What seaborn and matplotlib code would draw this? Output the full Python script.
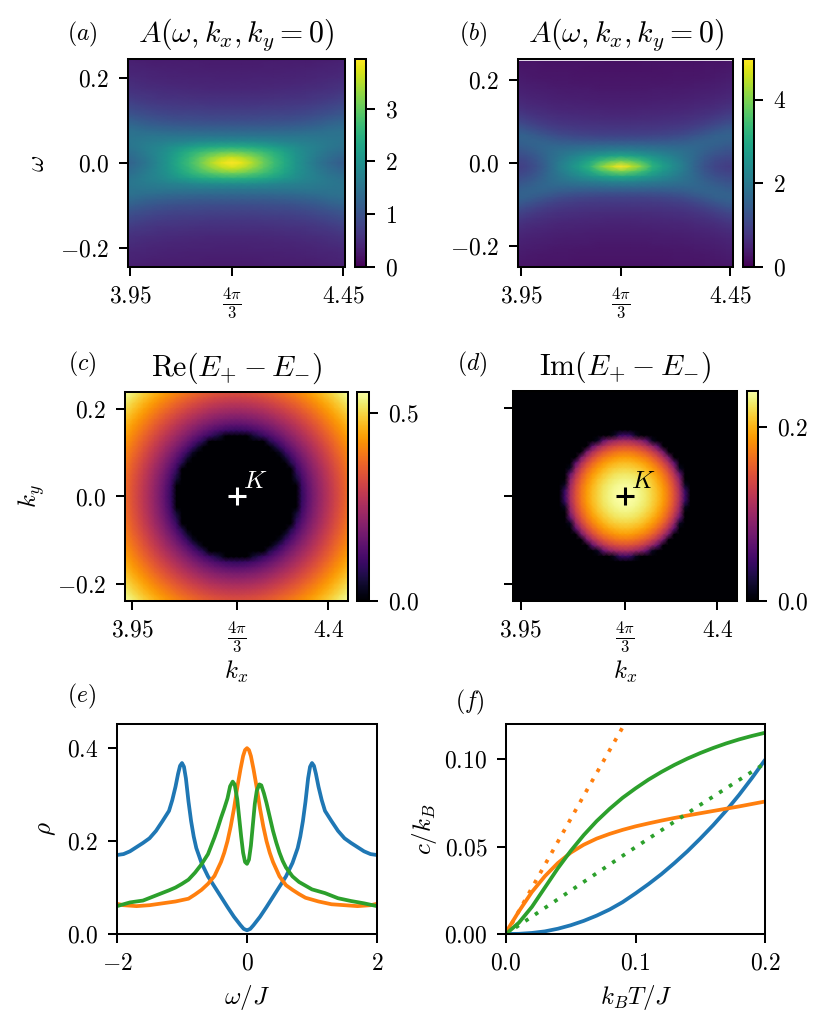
import numpy as np
import pandas as pd
import matplotlib
matplotlib.use('Agg')
import matplotlib.pyplot as plt
import seaborn as sns

K_POINT = 4 * np.pi / 3

# spectral function, quarter of the map: rows omega = 0, 0.0125, ... ; columns k - K = 0, 0.025, ...
spectral_a = [
    [3.94, 3.80, 3.45, 3.05, 2.70, 2.40, 2.05, 1.80, 1.55, 1.35, 1.20, 1.12],
    [3.65, 3.50, 3.25, 2.95, 2.62, 2.35, 2.05, 1.82, 1.60, 1.42, 1.28, 1.22],
    [3.05, 3.00, 2.85, 2.68, 2.48, 2.25, 2.00, 1.82, 1.65, 1.50, 1.40, 1.35],
    [2.45, 2.42, 2.38, 2.30, 2.18, 2.05, 1.92, 1.78, 1.68, 1.58, 1.50, 1.46],
    [1.90, 1.90, 1.88, 1.85, 1.80, 1.75, 1.70, 1.66, 1.62, 1.57, 1.53, 1.50],
    [1.55, 1.55, 1.55, 1.55, 1.55, 1.55, 1.55, 1.55, 1.53, 1.52, 1.50, 1.50],
    [1.30, 1.30, 1.30, 1.30, 1.31, 1.32, 1.33, 1.36, 1.40, 1.44, 1.45, 1.46],
    [1.08, 1.08, 1.08, 1.09, 1.10, 1.12, 1.14, 1.18, 1.23, 1.30, 1.35, 1.38],
    [.92, .92, .92, .93, .94, .95, .98, 1.02, 1.07, 1.14, 1.21, 1.25],
    [.80, .80, .80, .81, .82, .83, .85, .88, .93, 1.00, 1.06, 1.11],
    [.70, .70, .70, .71, .72, .73, .75, .78, .82, .87, .93, .98],
    [.61, .61, .61, .62, .63, .64, .66, .68, .72, .77, .82, .87],
    [.54, .54, .54, .55, .56, .57, .58, .60, .63, .67, .72, .76],
    [.48, .48, .48, .49, .50, .51, .52, .54, .57, .60, .64, .68],
    [.43, .43, .43, .44, .44, .45, .47, .48, .50, .53, .56, .60],
    [.39, .39, .40, .40, .41, .41, .42, .44, .46, .48, .51, .54],
    [.36, .36, .37, .37, .38, .38, .39, .40, .42, .44, .46, .49],
    [.34, .34, .34, .35, .35, .36, .36, .37, .39, .40, .42, .44],
    [.32, .32, .32, .33, .33, .33, .34, .35, .36, .37, .39, .41],
    [.30, .30, .30, .31, .31, .31, .32, .32, .33, .35, .36, .38],
    [.28, .28, .29, .29, .29, .30, .30, .31, .31, .32, .34, .35],
]
spectral_b = [
    [4.98, 4.55, 4.00, 3.20, 2.80, 2.40, 2.05, 1.60, 1.25, 1.02, .90, .86],
    [3.95, 3.75, 3.40, 2.95, 2.60, 2.30, 2.00, 1.65, 1.33, 1.10, 1.00, .96],
    [2.95, 2.85, 2.70, 2.50, 2.32, 2.12, 1.90, 1.68, 1.42, 1.24, 1.13, 1.10],
    [2.20, 2.18, 2.12, 2.05, 1.98, 1.90, 1.80, 1.68, 1.52, 1.37, 1.27, 1.24],
    [1.70, 1.70, 1.68, 1.66, 1.64, 1.63, 1.63, 1.63, 1.58, 1.50, 1.42, 1.40],
    [1.30, 1.30, 1.30, 1.30, 1.32, 1.35, 1.40, 1.48, 1.55, 1.57, 1.53, 1.50],
    [.98, .98, .99, 1.00, 1.03, 1.08, 1.14, 1.25, 1.38, 1.50, 1.55, 1.55],
    [.82, .82, .83, .84, .87, .90, .95, 1.04, 1.15, 1.30, 1.42, 1.47],
    [.71, .71, .72, .73, .75, .77, .81, .87, .96, 1.08, 1.21, 1.28],
    [.62, .62, .62, .63, .65, .67, .70, .74, .81, .90, 1.01, 1.08],
    [.54, .54, .55, .56, .57, .59, .61, .65, .70, .77, .86, .92],
    [.48, .48, .49, .50, .51, .52, .54, .57, .61, .66, .73, .79],
    [.43, .43, .44, .45, .45, .47, .48, .51, .54, .58, .64, .69],
    [.39, .39, .40, .40, .41, .42, .43, .45, .48, .52, .56, .60],
    [.36, .36, .36, .37, .37, .38, .39, .41, .43, .46, .50, .54],
    [.33, .33, .33, .34, .34, .35, .36, .37, .39, .42, .45, .48],
    [.30, .30, .31, .31, .31, .32, .33, .34, .36, .38, .41, .44],
    [.28, .28, .29, .29, .29, .30, .30, .31, .33, .35, .37, .40],
    [.26, .26, .27, .27, .27, .28, .28, .29, .30, .32, .34, .36],
    [.25, .25, .25, .25, .26, .26, .26, .27, .28, .29, .31, .33],
    [.23, .23, .24, .24, .24, .24, .25, .25, .26, .27, .29, .31],
    [.22, .22, .22, .23, .23, .23, .24, .24, .25, .26, .27, .29],
]

# gap maps, quarter of the map: rows k_y = 0, 0.0125, ... ; columns k_x - K = 0, 0.0125, ...
gap_re = [
    [0, 0, 0, 0, 0, 0, 0, 0, 0, 0, 0, 0, .093, .143, .181, .216, .247, .276, .304, .331, .358, .384],
    [0, 0, 0, 0, 0, 0, 0, 0, 0, 0, 0, 0, .096, .144, .183, .217, .248, .277, .305, .332, .359, .384],
    [0, 0, 0, 0, 0, 0, 0, 0, 0, 0, 0, 0, .103, .149, .187, .220, .251, .280, .307, .334, .361, .386],
    [0, 0, 0, 0, 0, 0, 0, 0, 0, 0, 0, .046, .113, .157, .193, .225, .255, .284, .311, .338, .364, .389],
    [0, 0, 0, 0, 0, 0, 0, 0, 0, 0, 0, .073, .127, .167, .201, .232, .261, .289, .316, .343, .368, .393],
    [0, 0, 0, 0, 0, 0, 0, 0, 0, 0, 0, .098, .143, .179, .211, .241, .269, .297, .323, .349, .374, .399],
    [0, 0, 0, 0, 0, 0, 0, 0, 0, 0, .070, .121, .160, .193, .223, .251, .279, .305, .331, .356, .381, .405],
    [0, 0, 0, 0, 0, 0, 0, 0, 0, .046, .105, .144, .178, .208, .236, .263, .289, .315, .340, .364, .389, .412],
    [0, 0, 0, 0, 0, 0, 0, 0, .035, .096, .134, .167, .196, .224, .251, .276, .301, .326, .350, .374, .397, .421],
    [0, 0, 0, 0, 0, 0, 0, .046, .096, .131, .161, .189, .216, .241, .266, .290, .314, .338, .361, .384, .407, .430],
    [0, 0, 0, 0, 0, 0, .070, .105, .134, .161, .187, .211, .235, .259, .282, .305, .328, .351, .373, .396, .418, .440],
    [0, 0, 0, .046, .073, .098, .121, .144, .167, .189, .211, .233, .255, .277, .299, .321, .343, .364, .386, .408, .430, .451],
    [.093, .096, .103, .113, .127, .143, .160, .178, .196, .216, .235, .255, .275, .296, .316, .337, .358, .379, .400, .421, .442, .463],
    [.143, .144, .149, .157, .167, .179, .193, .208, .224, .241, .259, .277, .296, .315, .334, .354, .374, .394, .414, .434, .455, .475],
    [.181, .183, .187, .193, .201, .211, .223, .236, .251, .266, .282, .299, .316, .334, .353, .371, .390, .410, .429, .449, .469, .489],
    [.216, .217, .220, .225, .232, .241, .251, .263, .276, .290, .305, .321, .337, .354, .371, .389, .407, .426, .445, .464, .483, .502],
    [.247, .248, .251, .255, .261, .269, .279, .289, .301, .314, .328, .343, .358, .374, .390, .407, .425, .442, .461, .479, .498, .516],
    [.276, .277, .280, .284, .289, .297, .305, .315, .326, .338, .351, .364, .379, .394, .410, .426, .442, .459, .477, .495, .513, .531],
    [.304, .305, .307, .311, .316, .323, .331, .340, .350, .361, .373, .386, .400, .414, .429, .445, .461, .477, .494, .511, .528, .546],
    [.331, .332, .334, .338, .343, .349, .356, .364, .374, .384, .396, .408, .421, .434, .449, .464, .479, .495, .511, .528, .545, .562],
]
gap_im = [
    [.242, .241, .238, .233, .226, .216, .204, .189, .169, .144, .109, .046],
    [.241, .240, .237, .232, .225, .215, .203, .188, .168, .142, .107, .040],
    [.238, .237, .234, .229, .222, .212, .200, .184, .164, .137, .100, .014],
    [.233, .232, .229, .224, .216, .207, .194, .177, .156, .129, .088, 0],
    [.226, .225, .222, .216, .209, .198, .185, .168, .146, .115, .066, 0],
    [.216, .215, .212, .207, .198, .188, .173, .155, .130, .095, .014, 0],
    [.204, .203, .200, .194, .185, .173, .158, .137, .109, .063, 0, 0],
    [.189, .188, .184, .177, .168, .155, .137, .113, .076, 0, 0, 0],
    [.169, .168, .164, .156, .146, .130, .109, .076, 0, 0, 0, 0],
    [.144, .142, .137, .129, .115, .095, .063, 0, 0, 0, 0, 0],
    [.109, .107, .100, .088, .066, .014, 0, 0, 0, 0, 0, 0],
    [.046, .040, .014, 0, 0, 0, 0, 0, 0, 0, 0, 0],
]

# density of states
omega_blue = [-2, -1.9, -1.8, -1.7, -1.6, -1.5, -1.4, -1.3, -1.2, -1.15, -1.1, -1.06, -1.03, -1.0, -.97, -.94, -.9, -.86, -.82, -.78, -.7, -.6, -.5, -.4, -.3, -.2, -.1, -.05, 0,
              .05, .1, .2, .3, .4, .5, .6, .7, .78, .82, .86, .9, .94, .97, 1.0, 1.03, 1.06, 1.1, 1.15, 1.2, 1.3, 1.4, 1.5, 1.6, 1.7, 1.8, 1.9, 2]
rho_blue = [.170, .172, .178, .187, .196, .206, .222, .243, .265, .288, .317, .345, .362, .368, .360, .335, .285, .243, .210, .185, .153, .124, .102, .080, .058, .037, .019, .011, .008,
            .011, .019, .037, .058, .080, .102, .124, .153, .185, .210, .243, .285, .335, .360, .368, .362, .345, .317, .288, .265, .243, .222, .206, .196, .187, .178, .172, .170]
omega_orange = [-2, -1.9, -1.7, -1.5, -1.3, -1.1, -.9, -.8, -.7, -.6, -.5, -.4, -.35, -.3, -.25, -.2, -.15, -.1, -.06, -.03, 0,
                .03, .06, .1, .15, .2, .25, .3, .35, .4, .5, .6, .7, .8, .9, 1.1, 1.3, 1.5, 1.7, 1.9, 2]
rho_orange = [.065, .062, .060, .062, .066, .070, .076, .085, .095, .108, .125, .155, .175, .200, .232, .270, .315, .355, .383, .396, .400,
              .396, .383, .355, .315, .270, .232, .200, .175, .155, .124, .105, .095, .086, .078, .070, .064, .062, .060, .062, .065]
omega_green = [-2, -1.8, -1.6, -1.4, -1.2, -1.1, -1.0, -.9, -.8, -.7, -.6, -.55, -.5, -.45, -.4, -.35, -.3, -.26, -.22, -.19, -.15, -.12, -.09, -.06, -.03, 0,
               .03, .06, .09, .12, .15, .19, .22, .26, .3, .35, .4, .45, .5, .55, .6, .7, .8, 1.0, 1.2, 1.4, 1.6, 1.8, 2]
rho_green = [.060, .068, .072, .083, .094, .100, .108, .117, .132, .150, .172, .190, .208, .228, .250, .270, .292, .318, .328, .322, .290, .250, .210, .175, .155, .151,
             .160, .190, .235, .280, .308, .322, .320, .303, .282, .252, .222, .197, .175, .157, .143, .124, .112, .096, .088, .077, .071, .066, .060]

# specific heat
temp = [0, .01, .02, .03, .04, .05, .06, .07, .08, .09, .1, .11, .12, .13, .14, .15, .16, .17, .18, .19, .2]
heat_blue = [0, .0001, .0006, .0015, .0030, .0050, .0075, .0105, .0140, .0182, .0232, .0285, .0342, .0405, .0472, .0545, .0622, .0705, .0795, .0892, .0995]
heat_orange = [.001, .013, .024, .033, .0405, .0465, .051, .0545, .0572, .0595, .0615, .0632, .0648, .0663, .0677, .0690, .0703, .0716, .0729, .0743, .0757]
heat_green = [0, .0065, .0155, .0265, .0375, .0475, .0565, .0645, .0715, .0778, .0832, .0882, .0926, .0966, .1002, .1034, .1063, .1089, .1112, .1132, .115]
temp_orange_dot = [0, .03, .06, .09]
heat_orange_dot = [0, .0395, .0790, .1180]
temp_green_dot = [0, .05, .1, .15, .2]
heat_green_dot = [0, .0248, .0496, .0738, .0975]

W, H = 830, 1030
LW_FRAME = 1.45
LW_CURVE = 2.7
FS_TICK = 17
FS_LABEL = 18
FS_TITLE = 21.5

sns.set_style('ticks')
plt.rcParams['font.family'] = ['cmr10', 'DejaVu Serif']
plt.rcParams['mathtext.fontset'] = 'cm'
plt.rcParams['axes.formatter.use_mathtext'] = True
plt.rcParams['font.size'] = FS_TICK
plt.rcParams['axes.unicode_minus'] = False
plt.rcParams['text.color'] = 'black'
plt.rcParams['axes.labelcolor'] = 'black'
plt.rcParams['xtick.color'] = 'black'
plt.rcParams['ytick.color'] = 'black'

fig = plt.figure(figsize=(W / 100, H / 100), dpi=100)


def place(left, top, right, bottom):
    return fig.add_axes([left / W, 1 - bottom / H, (right - left) / W, (bottom - top) / H])


def mirror(quarter):
    q = np.asarray(quarter, dtype=float)
    q = np.concatenate([q[:0:-1], q], axis=0)
    return np.concatenate([q[:, :0:-1], q], axis=1)


def style_frame(ax):
    for spine in ax.spines.values():
        spine.set_visible(True)
        spine.set_linewidth(LW_FRAME)
        spine.set_color('black')
    ax.tick_params(length=6.5, width=LW_FRAME, labelsize=FS_TICK, pad=7)


def xlabel_at(ax, text, px, py):
    ax.set_xlabel(text, fontsize=FS_LABEL, va='center')
    ax.xaxis.set_label_coords(px / W, 1 - py / H, transform=fig.transFigure)


def ylabel_at(ax, text, px, py):
    ax.set_ylabel(text, fontsize=FS_LABEL, va='center')
    ax.yaxis.set_label_coords(px / W, 1 - py / H, transform=fig.transFigure)


def map_panel(box, cbox, data, cmap, vmax, cticks, clabels):
    ax = place(*box)
    cax = place(*cbox)
    # gouraud keeps the map smooth although the typed grid is coarse
    sns.heatmap(data, ax=ax, cbar_ax=cax, cmap=cmap, vmin=0, vmax=vmax, shading='gouraud',
                xticklabels=False, yticklabels=False)
    style_frame(ax)
    cbar = ax.collections[0].colorbar
    cbar.outline.set_linewidth(LW_FRAME)
    cbar.outline.set_edgecolor('black')
    cbar.set_ticks(cticks, labels=clabels)
    cax.tick_params(length=6.5, width=LW_FRAME, labelsize=FS_TICK, pad=7)
    return ax


frac_label = r'$\frac{4\pi}{3}$'

# (a) and (b): omega against k_x
x_ticks_top = [3.95, K_POINT, 4.45]
x_labels_top = ['$3.95$', frac_label, '$4.45$']
w_ticks = [.2, 0, -.2]
w_labels = ['$0.2$', '$0.0$', '$-0.2$']

map_a = mirror(spectral_a)
ax_a = map_panel((128, 59, 344.5, 267), (355, 59, 366, 267), map_a, 'viridis', 3.94,
                 [0, 1, 2, 3], ['$0$', '$1$', '$2$', '$3$'])
ax_a.set_xlim(11 + (3.9455 - K_POINT) / .025, 11 + (4.4535 - K_POINT) / .025)
ax_a.set_ylim(20 + .245 / .0125, 20 - .245 / .0125)
ax_a.set_xticks([11 + (v - K_POINT) / .025 for v in x_ticks_top], labels=x_labels_top)
ax_a.set_yticks([20 - v / .0125 for v in w_ticks], labels=w_labels)
ylabel_at(ax_a, r'$\omega$', 38, 163)
ax_a.set_title(r'$A(\omega,k_x,k_y=0)$', fontsize=FS_TITLE, pad=12)

map_b = mirror(spectral_b)
ax_b = map_panel((518, 59, 733, 267), (743, 59, 754, 267), map_b, 'viridis', 4.98,
                 [0, 2, 4], ['$0$', '$2$', '$4$'])
b_shift = -.0085
ax_b.set_xlim(11 + (3.943 - K_POINT) / .025, 11 + (4.456 - K_POINT) / .025)
ax_b.set_ylim(21 - (-.25 - b_shift) / .0125, 21 - (.25 - b_shift) / .0125)
ax_b.set_xticks([11 + (v - K_POINT) / .025 for v in x_ticks_top], labels=x_labels_top)
ax_b.set_yticks([21 - (v - b_shift) / .0125 for v in w_ticks], labels=w_labels)
ax_b.axhline(21 - (.2465 - b_shift) / .0125, color='#e8e0ee', lw=.7)
ax_b.set_title(r'$A(\omega,k_x,k_y=0)$', fontsize=FS_TITLE, pad=12)

# (c) and (d): gap maps
x_ticks_mid = [3.95, K_POINT, 4.4]
x_labels_mid = ['$3.95$', frac_label, '$4.4$']
ky_ticks = [.2, 0, -.2]
ky_labels = ['$0.2$', '$0.0$', '$-0.2$']

map_c = mirror(gap_re)
quad_d = np.zeros(np.shape(gap_re))
quad_d[:12, :12] = gap_im
map_d = mirror(quad_d)

panels_mid = [
    ((125, 392, 348, 601), (357, 392, 369, 601), map_c, .556, [0, .5], ['$0.0$', '$0.5$'],
     r'$\mathrm{Re}(E_{+}-E_{-})$', 'white', 236.5),
    ((513, 391, 737, 601), (747, 391, 758, 601), map_d, .2416, [0, .2], ['$0.0$', '$0.2$'],
     r'$\mathrm{Im}(E_{+}-E_{-})$', 'black', 625),
]
for box, cbox, data, vmax, cticks, clabels, title, mark, label_x in panels_mid:
    ax = map_panel(box, cbox, data, 'inferno', vmax, cticks, clabels)
    ax.set_xlim(21 - .256 / .0125, 21 + .256 / .0125)
    ax.set_ylim(19 + .2385 / .0125, 19 - .2385 / .0125)
    ax.set_xticks([21 + (v - K_POINT) / .0125 for v in x_ticks_mid], labels=x_labels_mid)
    ax.set_yticks([19 - v / .0125 for v in ky_ticks], labels=ky_labels if mark == 'white' else [])
    xlabel_at(ax, '$k_x$', label_x, 672)
    ax.set_title(title, fontsize=FS_TITLE, pad=12)
    ax.plot([21], [19], marker='+', ms=13, mew=2.2, color=mark)
    ax.text(21 + .0138 / .0125, 19 - .019 / .0125, '$K$', color=mark, fontsize=FS_LABEL)
    if mark == 'white':
        ylabel_at(ax, '$k_y$', 32, 496)

# (e) density of states
ax_e = place(117, 724, 377, 934)
sns.lineplot(x=omega_blue, y=rho_blue, ax=ax_e, color='C0', lw=LW_CURVE, errorbar=None, sort=False)
sns.lineplot(x=omega_orange, y=rho_orange, ax=ax_e, color='C1', lw=LW_CURVE, errorbar=None, sort=False)
sns.lineplot(x=omega_green, y=rho_green, ax=ax_e, color='C2', lw=LW_CURVE, errorbar=None, sort=False)
ax_e.set_xlim(-2, 2)
ax_e.set_ylim(0, .452)
ax_e.set_xticks([-2, 0, 2], labels=['$-2$', '$0$', '$2$'])
ax_e.set_yticks([0, .2, .4], labels=['$0.0$', '$0.2$', '$0.4$'])
xlabel_at(ax_e, r'$\omega/J$', 247, 997)
ylabel_at(ax_e, r'$\rho$', 47, 829)
style_frame(ax_e)

# (f) specific heat
dotted = (0, (1, 2.1))
ax_f = place(506, 724, 765, 934)
sns.lineplot(x=temp, y=heat_blue, ax=ax_f, color='C0', lw=LW_CURVE, errorbar=None)
sns.lineplot(x=temp, y=heat_orange, ax=ax_f, color='C1', lw=LW_CURVE, errorbar=None)
sns.lineplot(x=temp, y=heat_green, ax=ax_f, color='C2', lw=LW_CURVE, errorbar=None)
sns.lineplot(x=temp_orange_dot, y=heat_orange_dot, ax=ax_f, color='C1', lw=LW_CURVE, ls=dotted, errorbar=None)
sns.lineplot(x=temp_green_dot, y=heat_green_dot, ax=ax_f, color='C2', lw=LW_CURVE, ls=dotted, errorbar=None)
ax_f.set_xlim(0, .2)
ax_f.set_ylim(0, .12)
ax_f.set_xticks([0, .1, .2], labels=['$0.0$', '$0.1$', '$0.2$'])
ax_f.set_yticks([0, .05, .1], labels=['$0.00$', '$0.05$', '$0.10$'])
xlabel_at(ax_f, r'$k_BT/J$', 636, 997)
ylabel_at(ax_f, r'$c/k_B$', 424, 829)
style_frame(ax_f)

# panel tags
for tag, px, py in [('a', 82, 34), ('b', 473, 34), ('c', 82, 364), ('d', 472, 364), ('e', 82, 696), ('f', 470, 702)]:
    fig.text(px / W, 1 - py / H, f'$({tag})$', fontsize=17, ha='center', va='center')

fig.savefig('out.png', dpi=100)
